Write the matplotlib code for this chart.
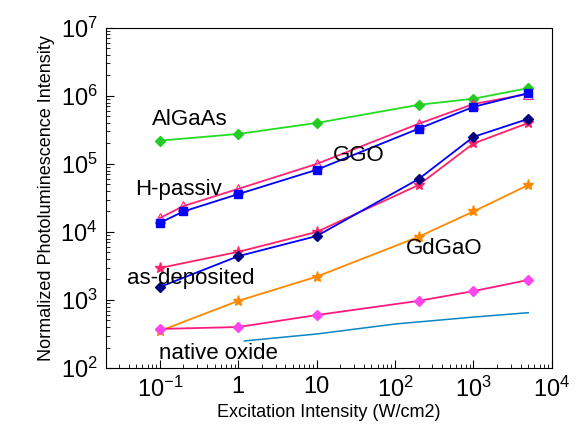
import matplotlib
matplotlib.use("Agg")
from matplotlib import pyplot as plt
from matplotlib.ticker import FixedLocator, FixedFormatter, LogLocator, NullFormatter

plt.rcParams['font.family'] = ['Liberation Sans', 'DejaVu Sans']
plt.rcParams['mathtext.fontset'] = 'custom'
plt.rcParams['mathtext.rm'] = 'Liberation Sans'
plt.rcParams['mathtext.it'] = 'Liberation Sans'

# excitation intensities (W/cm2)
x6 = [0.1, 1, 10, 200, 1000, 5000]
x7 = [0.1, 0.2, 1, 10, 200, 1000, 5000]

algaas = [2.2e5, 2.76e5, 4.0e5, 7.4e5, 9.1e5, 1.3e6]
ggo_hpass = [1.6e4, 2.4e4, 4.3e4, 1.0e5, 3.9e5, 7.6e5, 1.07e6]
ggo_blue = [1.36e4, 2.0e4, 3.6e4, 8.2e4, 3.3e5, 6.9e5, 1.1e6]
asdep_pink = [2.95e3, 5.1e3, 1.0e4, 4.9e4, 2.0e5, 4.0e5]
asdep_navy = [1.55e3, 4.4e3, 8.7e3, 6.0e4, 2.5e5, 4.6e5]
gdgao = [350, 970, 2.2e3, 8.5e3, 2.0e4, 4.9e4]
native_marks = [375, 400, 600, 970, 1.35e3, 1.97e3]
native_x = [1.2, 10, 100, 1000, 5000]
native_line = [250, 316, 443, 560, 650]

xticks = [0.1, 1, 10, 100, 1000, 10000]
xlabels = [r'$10^{-1}$', '1', '10', r'$10^{2}$', r'$10^{3}$', r'$10^{4}$']
yticks = [1e2, 1e3, 1e4, 1e5, 1e6, 1e7]
ylabels = [r'$10^{2}$', r'$10^{3}$', r'$10^{4}$', r'$10^{5}$', r'$10^{6}$', r'$10^{7}$']

fig = plt.figure(figsize=(5.84, 4.36), dpi=100)
ax = fig.add_axes([0.1815, 0.156, 0.7635, 0.780])

ax.plot(x6, algaas, color='#22dd22', lw=1.3, marker='D', ms=5, mfc='#22cc22', mec='#22cc22')
ax.plot(x7, ggo_hpass, color='#ff2277', lw=1.3, marker='^', ms=7, mfc='none', mec='#ff2277', mew=0.8)
ax.plot(x7, ggo_blue, color='#0000ff', lw=1.3, marker='s', ms=5.5, mfc='#0000ff', mec='#0000ff')
ax.plot(x6, asdep_pink, color='#ff2266', lw=1.3, marker='*', ms=8, mfc='#ff2266', mec='#ff2266')
ax.plot(x6, asdep_navy, color='#0000ff', lw=1.3, marker='D', ms=5, mfc='#000080', mec='#000080')
ax.plot(x6, gdgao, color='#ff8800', lw=1.3, marker='*', ms=8, mfc='#ff8800', mec='#ff8800')
ax.plot(x6, native_marks, color='#ff1a80', lw=1.3, marker='D', ms=5, mfc='#ff44ee', mec='#ff44ee')
ax.plot(native_x, native_line, color='#0a85c0', lw=1.1)

ax.set_xscale('log')
ax.set_yscale('log')
ax.set_xlim(0.0206, 1e4)
ax.set_ylim(1e2, 1e7)

ax.xaxis.set_major_locator(FixedLocator(xticks))
ax.xaxis.set_major_formatter(FixedFormatter(xlabels))
ax.yaxis.set_major_locator(FixedLocator(yticks))
ax.yaxis.set_major_formatter(FixedFormatter(ylabels))
ax.xaxis.set_minor_locator(LogLocator(base=10, subs=range(2, 10), numticks=20))
ax.yaxis.set_minor_locator(LogLocator(base=10, subs=range(2, 10), numticks=20))
ax.xaxis.set_minor_formatter(NullFormatter())
ax.yaxis.set_minor_formatter(NullFormatter())
ax.tick_params(which='major', direction='in', length=6, labelsize=17, pad=6)
ax.tick_params(which='minor', direction='in', length=3)
ax.tick_params(top=False, right=False, which='both')

ax.set_xlabel('Excitation Intensity (W/cm2)', fontsize=13, labelpad=2)
ax.set_ylabel('Normalized Photoluminescence Intensity', fontsize=13, labelpad=4)

ax.text(0.079, 10**5.65, 'AlGaAs', fontsize=16, va='center', ha='left')
ax.text(16, 10**5.13, 'GGO', fontsize=16, va='center', ha='left')
ax.text(0.048, 10**4.62, 'H-passiv', fontsize=16, va='center', ha='left')
ax.text(0.038, 10**3.32, 'as-deposited', fontsize=16, va='center', ha='left')
ax.text(138, 10**3.76, 'GdGaO', fontsize=16, va='center', ha='left')
ax.text(0.098, 10**2.22, 'native oxide', fontsize=16, va='center', ha='left')

fig.savefig('out.png', dpi=100)
